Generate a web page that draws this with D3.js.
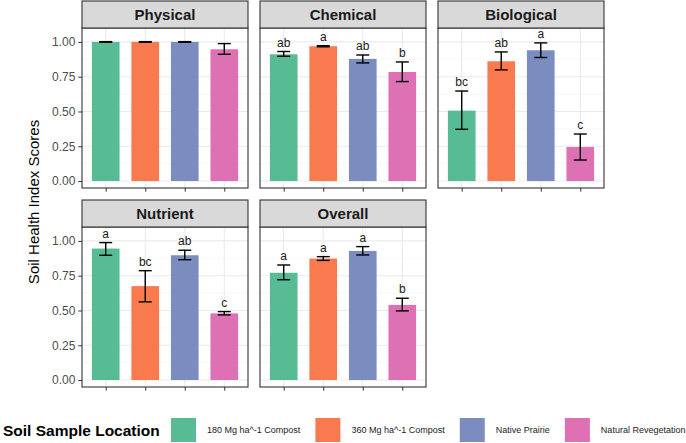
<!DOCTYPE html>
<html lang="en">
  <head>
    <meta charset="utf-8">
    <title>Soil health index scores</title>
    <script src="https://d3js.org/d3.v7.js"></script>
    <style>
      body { margin: 0; background: #fff; }
      * { font-family: "Liberation Sans", Arial, sans-serif; }
    </style>
  </head>
  <body>
    <script type="text/javascript">

      // data
      var sites = ["180 Mg ha^-1 Compost", "360 Mg ha^-1 Compost", "Native Prairie", "Natural Revegetation"];
      var colors = ["#57bb93", "#fa7a50", "#7b8cbf", "#de70b4"];
      var facets = ["Physical", "Chemical", "Biological", "Nutrient", "Overall"];

      var means = {
        Physical:   [1.00, 1.00, 1.00, 0.947],
        Chemical:   [0.911, 0.969, 0.878, 0.784],
        Biological: [0.506, 0.861, 0.940, 0.245],
        Nutrient:   [0.945, 0.675, 0.897, 0.479],
        Overall:    [0.771, 0.873, 0.928, 0.540]
      };
      var lower = {
        Physical:   [0.998, 0.998, 0.998, 0.911],
        Chemical:   [0.897, 0.965, 0.849, 0.715],
        Biological: [0.372, 0.799, 0.888, 0.151],
        Nutrient:   [0.897, 0.562, 0.865, 0.468],
        Overall:    [0.721, 0.860, 0.899, 0.497]
      };
      var upper = {
        Physical:   [1.002, 1.002, 1.002, 0.988],
        Chemical:   [0.931, 0.973, 0.906, 0.856],
        Biological: [0.647, 0.928, 0.993, 0.338],
        Nutrient:   [0.988, 0.786, 0.933, 0.492],
        Overall:    [0.827, 0.887, 0.959, 0.588]
      };
      var letters = {
        Physical:   ["", "", "", ""],
        Chemical:   ["ab", "a", "ab", "b"],
        Biological: ["bc", "ab", "a", "c"],
        Nutrient:   ["a", "bc", "ab", "c"],
        Overall:    ["a", "a", "a", "b"]
      };
      var yTicks = [0, 0.25, 0.5, 0.75, 1];
      var yMinor = [0.125, 0.375, 0.625, 0.875];

      var w = 686, h = 443;
      var colX = [82, 260, 438];
      var rowY = [1, 200];
      var panelW = 166, stripH = 27, plotH = 160;

      var svg = d3.select("body").append("svg")
        .attr("width", w)
        .attr("height", h);

      facets.forEach(function(f, i) {
        var col = i % 3, row = Math.floor(i / 3);
        var x0 = colX[col], top = rowY[row] + stripH;

        var x = d3.scalePoint().domain(sites).range([x0, x0 + panelW]).padding(0.6);
        var y = d3.scaleLinear().domain([-0.05, 1.1]).range([top + plotH, top]);
        var bw = x.step() * 0.7;

        var g = svg.append("g").attr("class", "panel");

        // grid
        g.selectAll(".minor").data(yMinor).enter().append("line")
          .attr("x1", x0).attr("x2", x0 + panelW)
          .attr("y1", d => y(d)).attr("y2", d => y(d))
          .attr("stroke", "#f2f2f2").attr("stroke-width", 0.6);
        g.selectAll(".major").data(yTicks).enter().append("line")
          .attr("x1", x0).attr("x2", x0 + panelW)
          .attr("y1", d => y(d)).attr("y2", d => y(d))
          .attr("stroke", "#ebebeb").attr("stroke-width", 1.1);
        g.selectAll(".vmajor").data(sites).enter().append("line")
          .attr("x1", d => x(d)).attr("x2", d => x(d))
          .attr("y1", top).attr("y2", top + plotH)
          .attr("stroke", "#ebebeb").attr("stroke-width", 1.1);

        var rows = sites.map((s, j) => ({s: s, m: means[f][j], lo: lower[f][j], hi: upper[f][j], l: letters[f][j], c: colors[j]}));

        // bars
        g.selectAll(".bar").data(rows).enter().append("rect")
          .attr("x", d => x(d.s) - bw / 2)
          .attr("width", bw)
          .attr("y", d => y(d.m))
          .attr("height", d => y(0) - y(d.m))
          .attr("fill", d => d.c);

        // error bars
        var cap = 6.5;
        var eb = g.selectAll(".err").data(rows).enter().append("g")
          .attr("stroke", "#000").attr("stroke-width", 1.4);
        eb.append("line").attr("x1", d => x(d.s)).attr("x2", d => x(d.s))
          .attr("y1", d => y(d.lo)).attr("y2", d => y(d.hi));
        eb.append("line").attr("x1", d => x(d.s) - cap).attr("x2", d => x(d.s) + cap)
          .attr("y1", d => y(d.lo)).attr("y2", d => y(d.lo));
        eb.append("line").attr("x1", d => x(d.s) - cap).attr("x2", d => x(d.s) + cap)
          .attr("y1", d => y(d.hi)).attr("y2", d => y(d.hi));

        // letters
        g.selectAll(".lab").data(rows).enter().append("text")
          .attr("x", d => x(d.s))
          .attr("y", d => y(d.hi) - 5)
          .attr("text-anchor", "middle")
          .attr("font-size", "12px")
          .attr("fill", "#1a1a1a")
          .text(d => d.l);

        // panel border
        g.append("rect")
          .attr("x", x0).attr("y", top)
          .attr("width", panelW).attr("height", plotH)
          .attr("fill", "none").attr("stroke", "#333").attr("stroke-width", 1.1);

        // strip
        g.append("rect")
          .attr("x", x0).attr("y", rowY[row])
          .attr("width", panelW).attr("height", stripH)
          .attr("fill", "#d9d9d9").attr("stroke", "#333").attr("stroke-width", 1.1);
        g.append("text")
          .attr("x", x0 + panelW / 2)
          .attr("y", rowY[row] + stripH / 2 + 5)
          .attr("text-anchor", "middle")
          .attr("font-size", "15px")
          .attr("font-weight", "bold")
          .attr("fill", "#1a1a1a")
          .text(f);

        // x ticks (no labels)
        g.append("g")
          .attr("transform", `translate(0, ${top + plotH})`)
          .call(d3.axisBottom(x).tickSize(3.7).tickFormat(""))
          .call(a => a.select(".domain").remove())
          .call(a => a.selectAll("line").attr("stroke", "#333"));

        // y axis on the left column
        if (col === 0) {
          g.append("g")
            .attr("transform", `translate(${x0}, 0)`)
            .call(d3.axisLeft(y).tickValues(yTicks).tickSize(3.7).tickPadding(3).tickFormat(d3.format(".2f")))
            .call(a => a.select(".domain").remove())
            .call(a => a.selectAll("line").attr("stroke", "#333"))
            .call(a => a.selectAll("text").attr("fill", "#4d4d4d").attr("font-size", "12px")
              .style("font-family", "'Liberation Sans', Arial, sans-serif"));
        }
      });

      // y title
      svg.append("text")
        .attr("transform", "translate(39, 202) rotate(-90)")
        .attr("text-anchor", "middle")
        .attr("font-size", "15px")
        .attr("fill", "#000")
        .text("Soil Health Index Scores");

      // legend
      var leg = svg.append("g");
      leg.append("text")
        .attr("x", 3).attr("y", 436)
        .attr("font-size", "15.5px")
        .attr("font-weight", "bold")
        .attr("fill", "#000")
        .text("Soil Sample Location");

      var lx = 171, squeeze = 0.95;
      sites.forEach(function(s, j) {
        leg.append("rect")
          .attr("x", lx).attr("y", 418)
          .attr("width", 25).attr("height", 24)
          .attr("fill", colors[j]);
        var t = leg.append("text")
          .attr("transform", `translate(${lx + 36}, 433) scale(${squeeze}, 1)`)
          .attr("font-size", "9.5px")
          .attr("fill", "#1a1a1a")
          .text(s);
        lx = lx + 36 + t.node().getComputedTextLength() * squeeze + 15;
      });

    </script>
  </body>
</html>
